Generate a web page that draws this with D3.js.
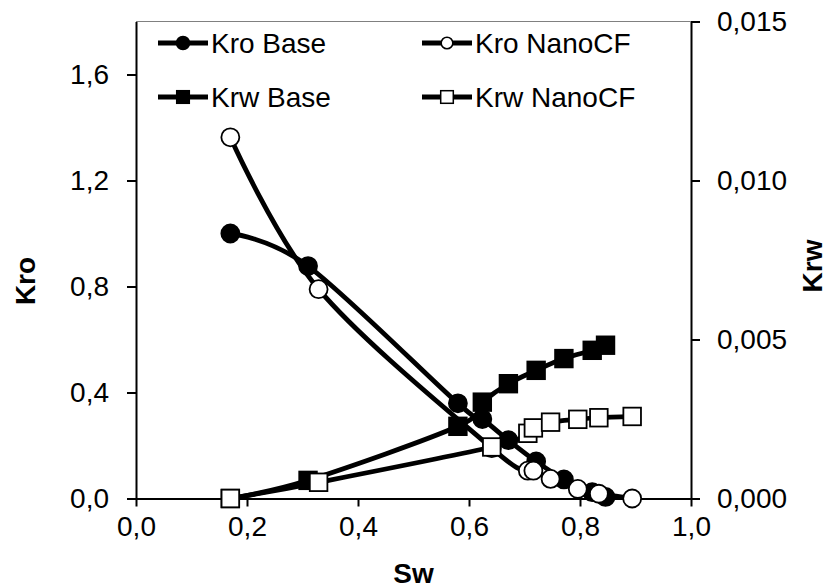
<!DOCTYPE html>
<html>
<head>
<meta charset="utf-8">
<script src="https://cdn.jsdelivr.net/npm/d3@7"></script>
<style>
  html, body { margin: 0; padding: 0; background: #fff; }
  svg { display: block; font-family: "Liberation Sans", Arial, sans-serif; }
</style>
</head>
<body>
<svg id="chart" width="828" height="588"></svg>
<script>
// Relative permeability curves: Base vs NanoCF
const swBase    = [0.170, 0.310, 0.580, 0.624, 0.671, 0.721, 0.771, 0.822, 0.846];
const kroBase   = [1.000, 0.877, 0.359, 0.300, 0.220, 0.140, 0.072, 0.024, 0.006];
const krwBase   = [0.0000, 0.00057, 0.00227, 0.00303, 0.00361, 0.00403, 0.00440, 0.00466, 0.00482];

const swNano    = [0.170, 0.329, 0.641, 0.706, 0.716, 0.747, 0.796, 0.834, 0.894];
const kroNano   = [1.363, 0.790, 0.190, 0.105, 0.105, 0.074, 0.036, 0.018, 0.000];
const krwNano   = [0.0000, 0.00051, 0.00162, 0.00205, 0.00222, 0.00240, 0.00249, 0.00254, 0.00258];

const xTicks    = [0, 0.2, 0.4, 0.6, 0.8, 1.0];
const kroTicks  = [0, 0.4, 0.8, 1.2, 1.6];
const krwTicks  = [0, 0.005, 0.010, 0.015];

const legendNames = ["Kro Base", "Kro NanoCF", "Krw Base", "Krw NanoCF"];

const svg = d3.select("#chart");
const plotLeft = 136, plotRight = 691, plotTop = 21.5, plotBottom = 498.5;

const x  = d3.scaleLinear().domain([0, 1]).range([plotLeft, plotRight]);
const yL = d3.scaleLinear().domain([0, 1.8]).range([plotBottom, plotTop]);
const yR = d3.scaleLinear().domain([0, 0.015]).range([plotBottom, plotTop]);

const comma = (digits) => (v) => d3.format("." + digits + "f")(v).replace(".", ",");
const fontSize = 28;

// top frame line
svg.append("line")
  .attr("x1", plotLeft).attr("x2", plotRight).attr("y1", plotTop).attr("y2", plotTop)
  .attr("stroke", "#808080").attr("stroke-width", 1.2);

// axes
const axisStyle = (g) => {
  g.selectAll(".domain").attr("stroke", "#000").attr("stroke-width", 2);
  g.selectAll(".tick line").attr("stroke", "#000").attr("stroke-width", 2);
  g.selectAll(".tick text").attr("fill", "#000")
    .style("font-size", fontSize + "px")
    .style("font-family", "'Liberation Sans', Arial, sans-serif");
};

svg.append("g")
  .attr("transform", `translate(0,${plotBottom})`)
  .call(d3.axisBottom(x).tickValues(xTicks).tickFormat(comma(1)).tickSize(8).tickSizeOuter(0).tickPadding(10))
  .call(axisStyle);

svg.append("g")
  .attr("transform", `translate(${plotLeft},0)`)
  .call(d3.axisLeft(yL).tickValues(kroTicks).tickFormat(comma(1)).tickSize(9).tickSizeOuter(0).tickPadding(18))
  .call(axisStyle);

svg.append("g")
  .attr("transform", `translate(${plotRight},0)`)
  .call(d3.axisRight(yR).tickValues(krwTicks).tickFormat(comma(3)).tickSize(9).tickSizeOuter(0).tickPadding(17))
  .call(axisStyle);

// axis titles
svg.append("text")
  .attr("x", x(0.5)).attr("y", 583)
  .attr("text-anchor", "middle")
  .style("font-size", fontSize + "px").style("font-weight", "bold")
  .text("Sw");

svg.append("text")
  .attr("transform", "translate(35,281) rotate(-90)")
  .attr("text-anchor", "middle")
  .style("font-size", fontSize + "px").style("font-weight", "bold")
  .text("Kro");

svg.append("text")
  .attr("transform", "translate(822,266) rotate(-90)")
  .attr("text-anchor", "middle")
  .style("font-size", fontSize + "px").style("font-weight", "bold")
  .text("Krw");

// series
const curve = d3.curveCatmullRom.alpha(0);
const series = [
  { sw: swBase, v: kroBase, y: yL, shape: "circle", fill: "#000" },
  { sw: swNano, v: kroNano, y: yL, shape: "circle", fill: "#fff" },
  { sw: swBase, v: krwBase, y: yR, shape: "square", fill: "#000" },
  { sw: swNano, v: krwNano, y: yR, shape: "square", fill: "#fff" }
];

const plot = svg.append("g");
series.forEach((s) => {
  const pts = s.sw.map((d, i) => [d, s.v[i]]);
  const line = d3.line().x((d) => x(d[0])).y((d) => s.y(d[1])).curve(curve);
  const g = plot.append("g");
  g.append("path")
    .attr("d", line(pts))
    .attr("fill", "none").attr("stroke", "#000").attr("stroke-width", 4.8)
    .attr("stroke-linejoin", "round");
  if (s.shape === "circle") {
    g.selectAll("circle").data(pts).join("circle")
      .attr("cx", (d) => x(d[0])).attr("cy", (d) => s.y(d[1]))
      .attr("r", 9)
      .attr("fill", s.fill).attr("stroke", "#000").attr("stroke-width", 1.8);
  } else {
    g.selectAll("rect").data(pts).join("rect")
      .attr("x", (d) => x(d[0]) - 8.8).attr("y", (d) => s.y(d[1]) - 8.8)
      .attr("width", 17.6).attr("height", 17.6)
      .attr("fill", s.fill).attr("stroke", "#000").attr("stroke-width", 1.8);
  }
});

// legend (two columns, row by row)
const legendPos = [
  { lx: 158, ly: 43 },
  { lx: 422, ly: 43 },
  { lx: 158, ly: 97 },
  { lx: 422, ly: 97 }
];
const legend = svg.append("g");
series.forEach((s, i) => {
  const p = legendPos[i];
  const g = legend.append("g").attr("transform", `translate(${p.lx},${p.ly})`);
  g.append("line").attr("x1", 0).attr("x2", 50).attr("y1", 0).attr("y2", 0)
    .attr("stroke", "#000").attr("stroke-width", 4.8);
  if (s.shape === "circle") {
    g.append("circle").attr("cx", 25).attr("cy", 0).attr("r", s.fill === "#000" ? 6.5 : 5.8)
      .attr("fill", s.fill).attr("stroke", "#000").attr("stroke-width", 1.5);
  } else {
    g.append("rect").attr("x", 25 - 6.3).attr("y", -6.3).attr("width", 12.6).attr("height", 12.6)
      .attr("fill", s.fill).attr("stroke", "#000").attr("stroke-width", 1.5);
  }
  g.append("text").attr("x", 53).attr("y", 0).attr("dy", "0.35em")
    .style("font-size", fontSize + "px")
    .text(legendNames[i]);
});
</script>
</body>
</html>
